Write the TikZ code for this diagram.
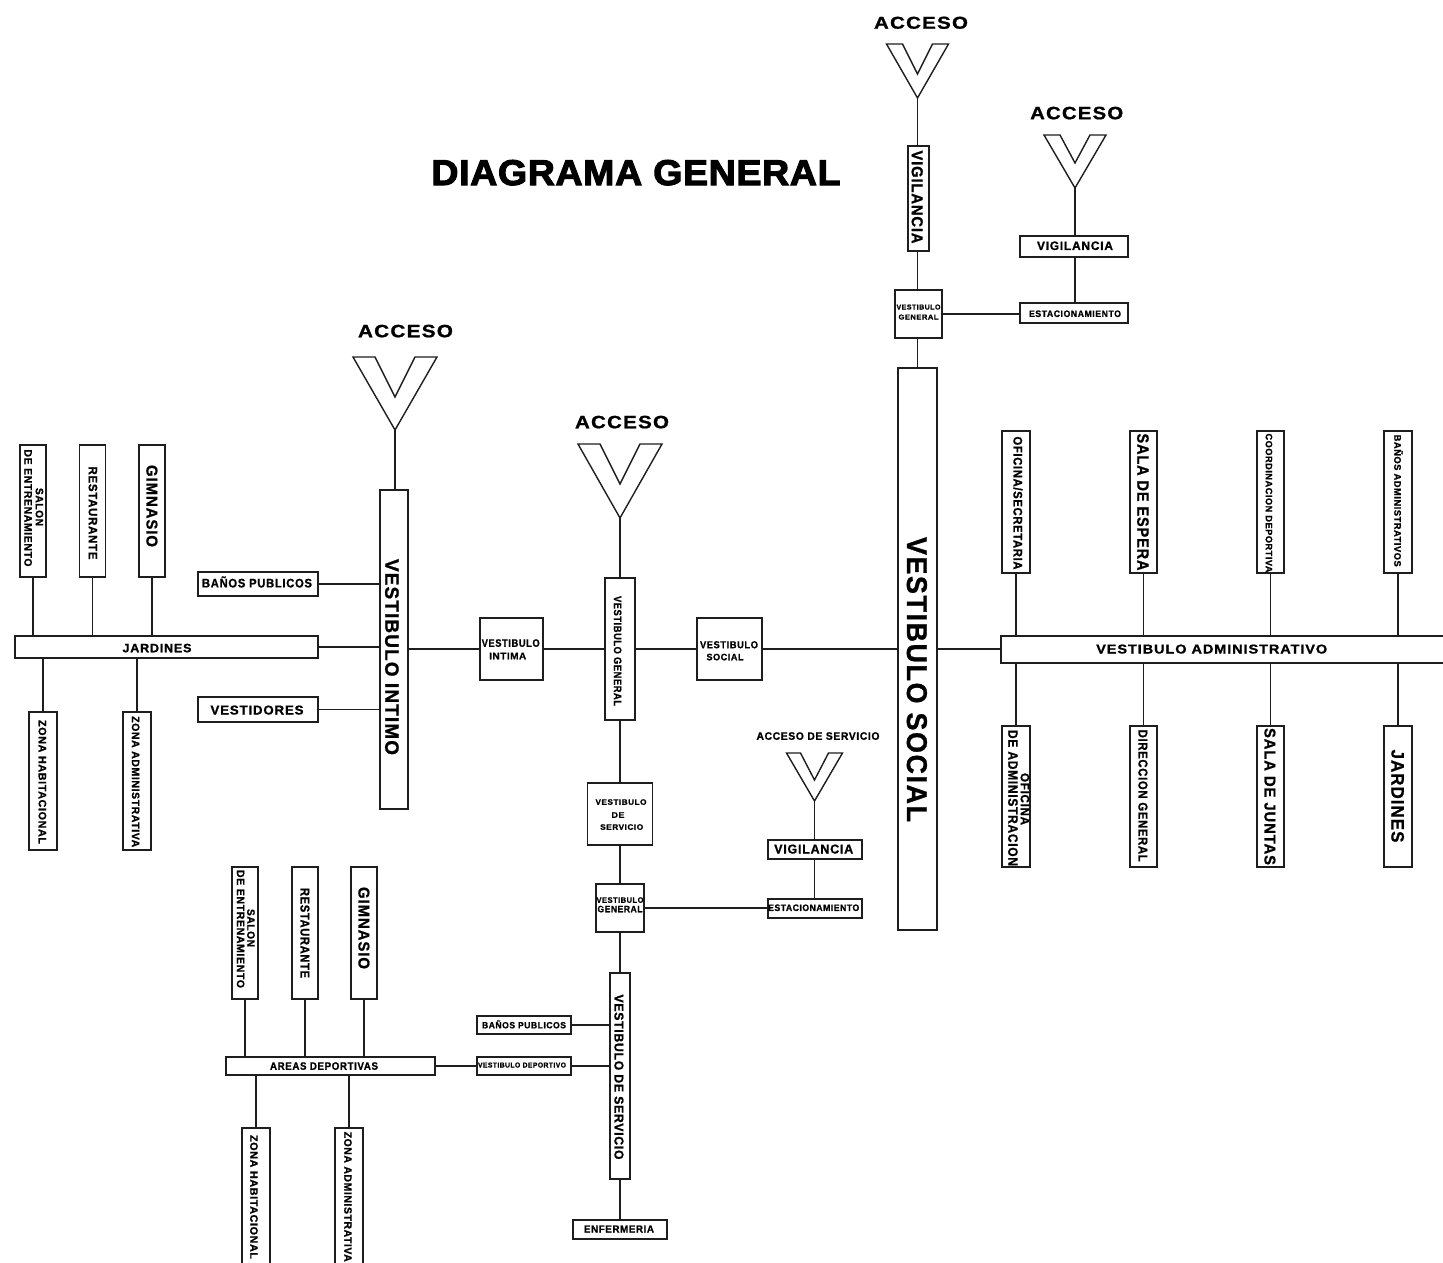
\documentclass[tikz,border=0pt]{standalone}
\usepackage{graphicx}
\usepackage{fontspec}
\newfontfamily\lbl{Liberation Sans}[UprightFont=* Bold,LetterSpace=6,FakeBold=1]
\newfontfamily\ttl{Liberation Sans}[UprightFont=* Bold,LetterSpace=2,FakeBold=3]
\newlength{\px}\setlength{\px}{0.75pt}
% \T[along]{up}{length}{capheight}{text}: a text line of exact size, offset from the centre of its node
\newcommand{\T}[5][0]{\makebox[0pt]{\hspace*{#1\px}\hspace*{#1\px}\raisebox{\dimexpr#2\px-#4\px/2\relax}[0pt][0pt]{\resizebox{#3\px}{#4\px}{\lbl #5}}}}
\newcommand{\Yshape}[7]{% name, cx, top, halfwidth, notch y, apex y, arm top width
  \filldraw[yline] ({#2-#4},#3) -- ({#2-#4+#7},#3) -- (#2,#5) -- ({#2+#4-#7},#3) -- ({#2+#4},#3) -- (#2,#6) -- cycle;
  \coordinate (#1) at (#2,#6);}
\tikzset{
  hbox/.style={draw=ink,fill=white,line width=1.05pt,inner sep=0pt,outer sep=0pt},
  vbox/.style={hbox,rotate=-90},
  plain/.style={inner sep=0pt,outer sep=0pt},
  link/.style={draw=ink,line width=1.05pt},
  yline/.style={draw=ink,fill=white,line width=1.05pt,line join=miter}
}
\definecolor{ink}{HTML}{1E1E1E}
\newcommand{\HB}[5]{\node[hbox,minimum width=#4\px,minimum height=#5\px] (#1) at (#2,#3)}
\newcommand{\VB}[5]{\node[vbox,minimum width=#4\px,minimum height=#5\px] (#1) at (#2,#3)}
\begin{document}
\begin{tikzpicture}[x=0.75pt,y=-0.75pt]
\clip (0,0) rectangle (1443,1263);
\fill[white] (0,0) rectangle (1443,1263);
% title and free labels
\node[plain] (title) at (636,172.5) {\makebox[0pt]{\raisebox{-12.5\px}[0pt][0pt]{\resizebox{409\px}{25\px}{\ttl DIAGRAMA GENERAL}}}};
\node[plain] (acc1) at (921,22.7) {\T{0}{94}{12}{ACCESO}};
\node[plain] (acc2) at (1076.7,113) {\T{0}{93}{12.5}{ACCESO}};
\node[plain] (acc3) at (405.5,331) {\T{0}{95}{12.5}{ACCESO}};
\node[plain] (acc4) at (622,422) {\T{0}{94}{12.5}{ACCESO}};
\node[plain] (acc5) at (818,736) {\T{0}{123}{7.5}{ACCESO DE SERVICIO}};
% access symbols
\Yshape{y1}{917.5}{44}{31}{74}{98}{16}
\Yshape{y2}{1075}{135}{31}{163}{188}{16}
\Yshape{y3}{395}{357}{42}{397}{430}{22}
\Yshape{y4}{620}{444}{42}{484}{518}{22}
\Yshape{y5}{814.5}{753}{28}{780}{801}{14}
% left block
\VB{salon}{33}{511}{132}{26}{\T[-4]{6.5}{38}{7.5}{SALON}\T[-3]{-4.8}{117}{7.5}{DE ENTRENAMIENTO}};
\VB{rest}{92.5}{511}{132}{26}{\T[2]{.5}{93}{8.5}{RESTAURANTE}};
\VB{gim}{152}{511}{132}{26}{\T[-5]{0}{82}{11}{GIMNASIO}};
\HB{jard}{166.5}{647}{303}{22}{\T[-9.5]{-1}{69}{8.5}{JARDINES}};
\HB{banos}{258}{584}{120}{24}{\T[-1]{2.1}{110}{11}{BAÑOS PUBLICOS}};
\HB{vestd}{258}{709.5}{120}{25}{\T[-1]{-.5}{93}{9}{VESTIDORES}};
\VB{vint}{394}{649.5}{319}{28}{\T[7.5]{-2}{196}{13.5}{VESTIBULO INTIMO}};
\VB{zh}{43}{781}{138}{28}{\T[1]{-.5}{124}{7.5}{ZONA HABITACIONAL}};
\VB{za}{137}{781}{138}{28}{\T[.7]{-1.3}{131}{7.5}{ZONA ADMINISTRATIVA}};
% central spine
\HB{vintima}{511.5}{649}{63}{62}{\T[-.8]{6}{58}{7.5}{VESTIBULO}\T[-3.8]{-7}{37}{6.5}{INTIMA}};
\VB{vgen}{620}{649}{142}{30}{\T[2]{-2.3}{110}{7.5}{VESTIBULO GENERAL}};
\HB{vsoc}{729.5}{649}{65}{62}{\T[-.5]{4.3}{58}{7}{VESTIBULO}\T[-4.5]{-8}{37}{6.5}{SOCIAL}};
\HB{vserv}{620}{814}{65}{62}{\T[1]{12}{51}{5.5}{VESTIBULO}\T[-2]{-1}{13}{5.5}{DE}\T[1.7]{-13}{43}{5.5}{SERVICIO}};
\HB{vgen2}{620}{908}{48}{48}{\T{8}{47}{5.5}{VESTIBULO}\T{-1}{45}{6.5}{GENERAL}};
\HB{vig3}{815}{849.5}{94}{19}{\T[-1.3]{.5}{79}{9}{VIGILANCIA}};
\HB{est3}{815}{908.5}{94}{19}{\T[-1.3]{.8}{91}{6.5}{ESTACIONAMIENTO}};
% top right
\VB{vig1}{918.5}{198.5}{105}{21}{\T[-1.5]{-1.2}{93}{11}{VIGILANCIA}};
\HB{vgen3}{918.5}{314}{47}{48}{\T{7}{44}{5}{VESTIBULO}\T{-3}{40}{5}{GENERAL}};
\HB{vig2}{1074}{246.5}{108}{21}{\T[1]{.8}{76}{8.5}{VIGILANCIA}};
\HB{est1}{1074}{313}{108}{20}{\T[1]{-.7}{92}{6.5}{ESTACIONAMIENTO}};
\VB{vsocial}{917.5}{649}{562}{39}{\T[30.5]{-.5}{285}{20}{VESTIBULO SOCIAL}};
% administrative block
\HB{vadm}{1225.5}{649.5}{449}{27}{\T[-13.8]{.5}{231}{9}{VESTIBULO ADMINISTRATIVO}};
\VB{ofsec}{1016}{502}{142}{28}{\T[1]{2}{133}{9}{OFICINA/SECRETARIA}};
\VB{salaesp}{1143.5}{502}{142}{27}{\T{-.5}{137}{11.5}{SALA DE ESPERA}};
\VB{coord}{1270.5}{502}{142}{27}{\T[1]{-1.5}{139}{6.5}{COORDINACION DEPORTIVA}};
\VB{banadm}{1398}{502}{142}{28}{\T[-1.3]{.5}{132}{8.5}{BAÑOS ADMINISTRATIVOS}};
\VB{ofadm}{1016}{796.5}{141}{28}{\T[2.5]{9}{52}{8.5}{OFICINA}\T[1.5]{-3}{136}{9.5}{DE ADMINISTRACION}};
\VB{direc}{1143.5}{796.5}{141}{27}{\T[-.8]{-.5}{132}{9}{DIRECCION GENERAL}};
\VB{salaj}{1270.5}{796.5}{141}{27}{\T{-.5}{137}{11}{SALA DE JUNTAS}};
\VB{jard2}{1398}{796.5}{141}{28}{\T[-.5]{-.3}{93}{12.5}{JARDINES}};
% bottom block
\VB{salon2}{245}{933}{132}{26}{\T[-5]{6}{38}{7.5}{SALON}\T[-4]{-4.3}{118}{7.5}{DE ENTRENAMIENTO}};
\VB{rest2}{305}{933}{132}{26}{\T{0}{90}{9}{RESTAURANTE}};
\VB{gim2}{364}{933}{132}{26}{\T[-5]{0}{82}{11}{GIMNASIO}};
\HB{areas}{330.5}{1066}{209}{18}{\T[-6.5]{0}{108}{7.5}{AREAS DEPORTIVAS}};
\VB{zh2}{256}{1199}{142}{28}{\T[-2]{-2}{124}{7.5}{ZONA HABITACIONAL}};
\VB{za2}{349}{1199}{142}{28}{\T[-2.3]{-1}{130}{7.5}{ZONA ADMINISTRATIVA}};
\HB{ban2}{524}{1025}{94}{18}{\T{.7}{84}{8}{BAÑOS PUBLICOS}};
\HB{vdep}{524}{1066}{94}{18}{\T[-2]{1}{88}{5}{VESTIBULO DEPORTIVO}};
\VB{vserv2}{620}{1076}{206}{20}{\T[1]{-1}{165}{9}{VESTIBULO DE SERVICIO}};
\HB{enf}{620}{1229.5}{94}{19}{\T[-1]{.5}{70}{7}{ENFERMERIA}};
% connectors: left block
\draw[link] (salon.east) -- (salon.east |- jard.north);
\draw[link] (rest.east) -- (rest.east |- jard.north);
\draw[link] (gim.east) -- (gim.east |- jard.north);
\draw[link] (zh.west) -- (zh.west |- jard.south);
\draw[link] (za.west) -- (za.west |- jard.south);
\draw[link] (banos.east) -- (banos.east -| vint.south);
\draw[link] (vestd.east) -- (vestd.east -| vint.south);
\draw[link] (jard.east) -- (jard.east -| vint.south);
% connectors: spine, all on the axis of vintima
\draw[link] (y3) -- (y3 |- vint.west);
\draw[link] (vintima.west -| vint.north) -- (vintima.west);
\draw[link] (vintima.east) -- (vgen.south);
\draw[link] (vgen.north) -- (vsoc.west);
\draw[link] (vsoc.east) -- (vsocial.south);
\draw[link] (vsoc.east -| vsocial.north) -- (vsoc.east -| vadm.west);
\draw[link] (y4) -- (vgen.west);
\draw[link] (vgen.east) -- (vserv.north);
\draw[link] (vserv.south) -- (vgen2.north);
\draw[link] (vgen2.south) -- (vserv2.west);
\draw[link] (vserv2.east) -- (enf.north);
\draw[link] (vgen2.east) -- (vgen2.east -| est3.west);
\draw[link] (y5) -- (y5 |- vig3.north);
\draw[link] (y5 |- vig3.south) -- (y5 |- est3.north);
% connectors: top right
\draw[link] (y1) -- (y1 |- vig1.west);
\draw[link] (y1 |- vig1.east) -- (y1 |- vgen3.north);
\draw[link] (y1 |- vgen3.south) -- (y1 |- vsocial.west);
\draw[link] (vgen3.east) -- (vgen3.east -| est1.west);
\draw[link] (y2) -- (y2 |- vig2.north);
\draw[link] (y2 |- vig2.south) -- (y2 |- est1.north);
% connectors: administrative block
\foreach \a in {ofsec,salaesp,coord,banadm} \draw[link] (\a.east) -- (\a.east |- vadm.north);
\foreach \a in {ofadm,direc,salaj,jard2} \draw[link] (\a.west) -- (\a.west |- vadm.south);
% connectors: bottom block
\draw[link] (salon2.east) -- (salon2.east |- areas.north);
\draw[link] (rest2.east) -- (rest2.east |- areas.north);
\draw[link] (gim2.east) -- (gim2.east |- areas.north);
\draw[link] (zh2.west) -- (zh2.west |- areas.south);
\draw[link] (za2.west) -- (za2.west |- areas.south);
\draw[link] (areas.east) -- (vdep.west);
\draw[link] (vdep.east) -- (vdep.east -| vserv2.south);
\draw[link] (ban2.east) -- (ban2.east -| vserv2.south);
\end{tikzpicture}
\end{document}
